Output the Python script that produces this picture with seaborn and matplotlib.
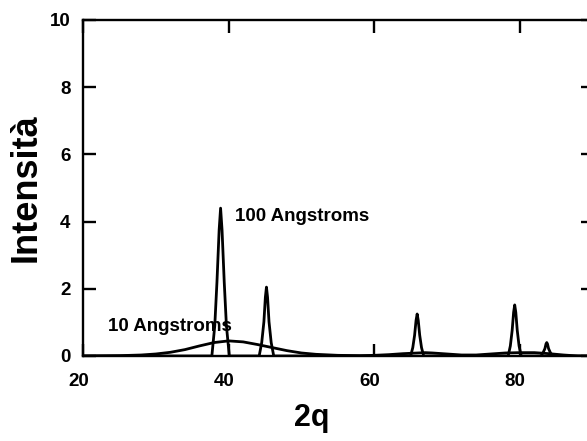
import matplotlib
matplotlib.use("Agg")
import matplotlib.pyplot as plt
import matplotlib.transforms as mtransforms
import seaborn as sns
import pandas as pd

# ---- data ----
# sharp peaks (100 Angstroms crystallites)
x_100 = [20.0,
         37.7, 38.1, 38.4, 38.7, 38.9, 39.1, 39.4, 39.7, 40.1,
         44.2, 44.55, 44.85, 45.05, 45.2, 45.35, 45.55, 45.85, 46.2,
         65.0, 65.3, 65.55, 65.75, 65.9, 66.05, 66.25, 66.5, 66.8,
         78.4, 78.7, 78.95, 79.15, 79.3, 79.45, 79.65, 79.9, 80.2,
         82.9, 83.2, 83.45, 83.6, 83.7, 83.8, 83.95, 84.2, 84.5,
         90.0]
y_100 = [0.0,
         0.0, 0.9, 2.2, 3.75, 4.4, 3.75, 2.2, 0.9, 0.0,
         0.0, 0.4, 1.02, 1.75, 2.05, 1.75, 1.02, 0.4, 0.0,
         0.0, 0.25, 0.62, 1.06, 1.25, 1.06, 0.62, 0.25, 0.0,
         0.0, 0.3, 0.76, 1.3, 1.52, 1.3, 0.76, 0.3, 0.0,
         0.0, 0.1, 0.22, 0.36, 0.4, 0.36, 0.22, 0.1, 0.0,
         0.0]

# broad peaks (10 Angstroms crystallites)
x_10 = [20, 25, 28, 30, 32, 34, 36, 38, 40, 42, 44, 46, 48, 50, 52, 55,
        58, 60, 62, 64, 66, 67, 68, 70, 72, 74, 76, 78, 80, 82, 84, 86, 88, 90]
y_10 = [0.0, 0.01, 0.03, 0.06, 0.11, 0.19, 0.30, 0.40, 0.45, 0.42, 0.34,
        0.25, 0.16, 0.09, 0.05, 0.02, 0.01, 0.02, 0.04, 0.07, 0.09, 0.10,
        0.09, 0.06, 0.03, 0.03, 0.06, 0.09, 0.10, 0.10, 0.07, 0.03, 0.0, 0.0]

x_ticks = [20, 40, 60, 80]
y_ticks = [0, 2, 4, 6, 8, 10]

label_100 = "100 Angstroms"
label_10 = "10 Angstroms"
x_title = "2q"
y_title = "Intensità"

# ---- plotting ----
sns.set_theme(style="ticks")
plt.rcParams["font.family"] = ["Liberation Sans", "DejaVu Sans"]
plt.rcParams["font.weight"] = "bold"
for k in ["text.color", "axes.labelcolor", "xtick.color", "ytick.color",
          "axes.edgecolor"]:
    plt.rcParams[k] = "black"

fig = plt.figure(figsize=(5.87, 4.41), dpi=100)
ax = fig.add_axes([83 / 587, 85 / 441, 509.6 / 587, 336 / 441])

df100 = pd.DataFrame({"x": x_100, "y": y_100})
df10 = pd.DataFrame({"x": x_10, "y": y_10})
sns.lineplot(data=df100, x="x", y="y", ax=ax, color="black", lw=2.0,
             sort=False, estimator=None)
sns.lineplot(data=df10, x="x", y="y", ax=ax, color="black", lw=2.0,
             sort=False, estimator=None)

ax.set_xlim(20, 90)
ax.set_ylim(0, 10)
ax.set_xticks(x_ticks)
ax.set_yticks(y_ticks)
ax.set_xlabel("")
ax.set_ylabel("")
for s in ax.spines.values():
    s.set_linewidth(1.7)
    s.set_color("black")
ax.tick_params(direction="in", length=9, width=1.7, colors="black",
               labelcolor="black", top=True, right=True, labelsize=13.5)
ax.tick_params(axis="x", pad=12)
ax.tick_params(axis="y", pad=9)
shift = mtransforms.ScaledTranslation(-4.5 / 100, 0, fig.dpi_scale_trans)
for t in ax.get_xticklabels():
    t.set_fontweight("bold")
    t.set_transform(t.get_transform() + shift)
for t in ax.get_yticklabels():
    t.set_fontweight("bold")

ax.text(40.9, 4.15, label_100, fontsize=13.5, fontweight="bold",
        ha="left", va="center", color="black")
ax.text(23.4, 0.87, label_10, fontsize=13.5, fontweight="bold",
        ha="left", va="center", color="black")

fig.text(26 / 587, 1 - 188 / 441, y_title, rotation=90, fontsize=26,
         fontweight="bold", ha="center", va="center", color="black")
fig.text(312 / 587, 1 - 426 / 441, x_title, fontsize=22,
         fontweight="bold", ha="center", va="baseline", color="black")

fig.savefig("out.png", dpi=100)
